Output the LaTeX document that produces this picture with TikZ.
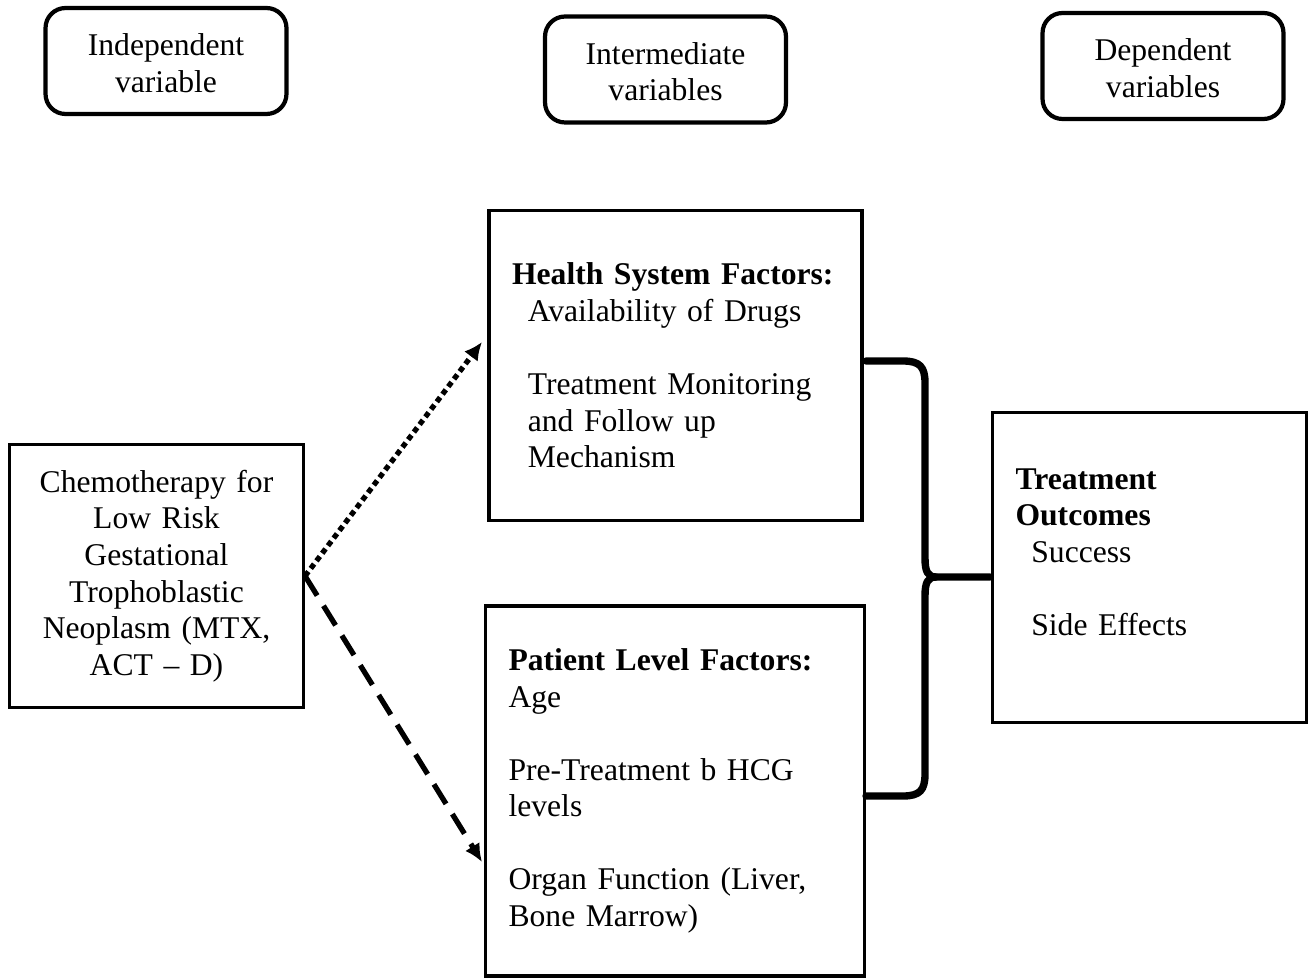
\documentclass[tikz,border=0pt]{standalone}
\usepackage{fontspec}
\setmainfont{Liberation Serif}
\usetikzlibrary{arrows.meta}

\begin{document}
\begin{tikzpicture}[x=0.02cm,y=-0.02cm]
        \tikzset{header/.style = {shape=rectangle,rounded corners=0.4cm,draw,line width=2.4pt,minimum width=4.82cm,minimum height=2.12cm,align=center,font=\fontsize{18}{20.8}\selectfont}}
        \tikzset{factor/.style = {shape=rectangle,draw,line width=1.8pt,inner xsep=0.46cm,align=left,font=\fontsize{18}{20.8}\selectfont}}
        \tikzset{edge/.style = {-{Latex[length=0.36cm,width=0.34cm]},line width=3pt}}
        \tikzset{brace/.style = {line width=4.2pt,line cap=round,line join=round}}
        \useasboundingbox (0,0) rectangle (1310,979);
        % headers
        \node[header] (indep) at (166,61)    {\\[-6pt]Independent\\variable};
        \node[header] (inter) at (665.5,69.5) {\\[-6pt]Intermediate\\variables};
        \node[header] (dep)   at (1163,66)   {\\[-6pt]Dependent\\variables};
        % boxes
        \node[factor,align=center,text width=4.96cm,minimum height=5.26cm] (chemo) at (156.5,576)
          {Chemotherapy for\\Low Risk\\Gestational\\Trophoblastic\\Neoplasm (MTX,\\ACT -- D)};
        \node[factor,text width=6.54cm,minimum height=6.2cm] (health) at (675.5,365.5)
          {\textbf{Health System Factors:}\\
           \hspace*{9pt}Availability of Drugs\\[20.8pt]
           \hspace*{9pt}Treatment Monitoring\\
           \hspace*{9pt}and Follow up\\
           \hspace*{9pt}Mechanism};
        \node[factor,text width=6.66cm,minimum height=7.4cm] (patient) at (675,791)
          {\textbf{Patient Level Factors:}\\
           Age\\[20.8pt]
           Pre-Treatment b HCG\\
           levels\\[20.8pt]
           Organ Function (Liver,\\
           Bone Marrow)};
        \node[factor,text width=5.36cm,minimum height=6.2cm] (outcome) at (1149.5,567.5)
          {\textbf{Treatment}\\
           \textbf{Outcomes}\\
           \hspace*{9pt}Success\\[20.8pt]
           \hspace*{9pt}Side Effects\\[-3pt]\mbox{}};
        % ends
        \coordinate (hsIn) at (482,342);
        \coordinate (plIn) at (482,862);
        \coordinate (hsR) at (866,361);
        \coordinate (plR) at (866,796);
        \coordinate (tip) at (936,577);
        \coordinate (ocL) at (990,577);
        %edges
        \draw[edge,dash pattern=on 0.11cm off 0.08cm] (chemo.east) -- (hsIn);
        \draw[edge,dash pattern=on 0.46cm off 0.24cm] (chemo.east) -- (plIn);
        % brace
        \draw[brace] (hsR) -- (903,361) .. controls (920,361) and (925,367) .. (925,383)
          -- (925,558) .. controls (925,572) and (928,577) .. (tip) -- (ocL);
        \draw[brace] (tip) .. controls (928,577) and (925,582) .. (925,596)
          -- (925,774) .. controls (925,790) and (920,796) .. (903,796) -- (plR);
\end{tikzpicture}
\end{document}
